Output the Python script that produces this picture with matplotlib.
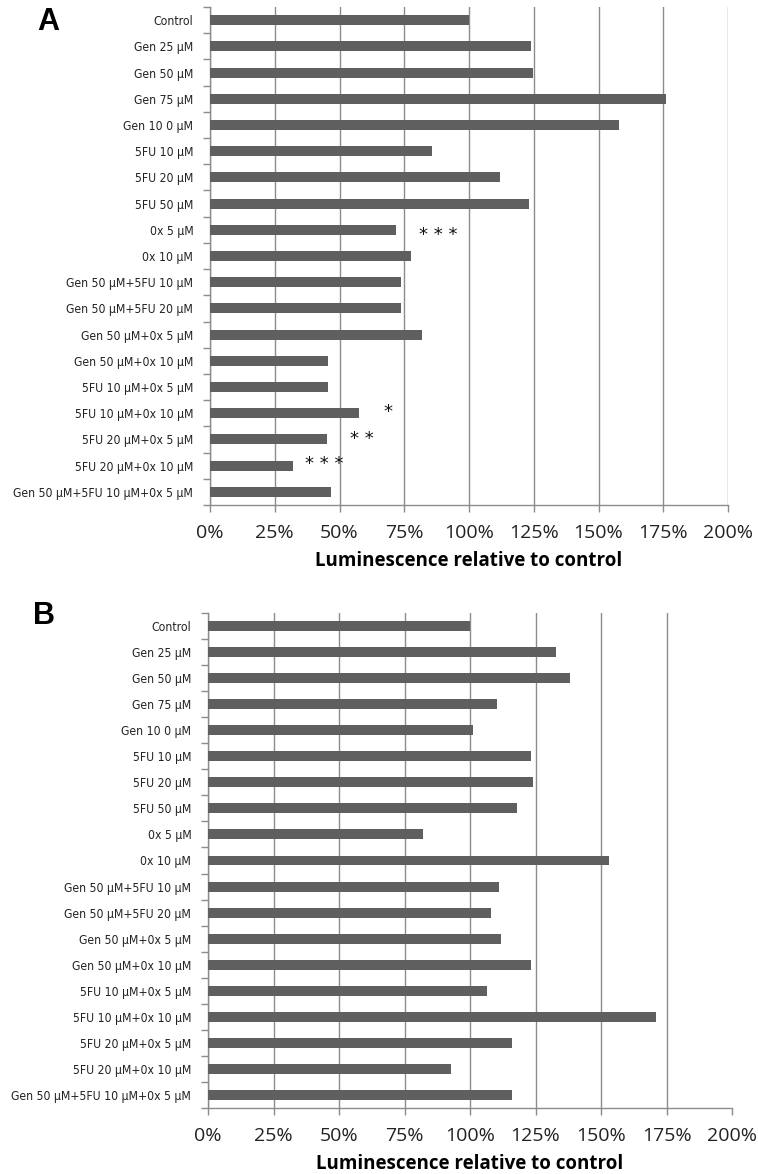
import matplotlib
matplotlib.use("Agg")
import matplotlib.pyplot as plt
from matplotlib import font_manager
from matplotlib.font_manager import FontProperties
import numpy as np

categories = ["Control", "Gen 25 μM", "Gen 50 μM", "Gen 75 μM", "Gen 10 0 μM",
              "5FU 10 μM", "5FU 20 μM", "5FU 50 μM", "0x 5 μM", "0x 10 μM",
              "Gen 50 μM+5FU 10 μM", "Gen 50 μM+5FU 20 μM", "Gen 50 μM+0x 5 μM",
              "Gen 50 μM+0x 10 μM", "5FU 10 μM+0x 5 μM", "5FU 10 μM+0x 10 μM",
              "5FU 20 μM+0x 5 μM", "5FU 20 μM+0x 10 μM", "Gen 50 μM+5FU 10 μM+0x 5 μM"]

values_a = [100, 123.8, 124.9, 175.9, 158.0, 85.8, 112.0, 123.0, 71.9, 77.6,
            73.7, 73.7, 82.0, 45.7, 45.7, 57.6, 45.0, 31.9, 46.6]
values_b = [100, 132.9, 138.2, 110.2, 101.1, 123.1, 124.1, 118.0, 82.0, 153.2,
            111.0, 108.0, 112.0, 123.1, 106.3, 170.9, 116.2, 92.9, 116.2]

x_ticks = [0, 25, 50, 75, 100, 125, 150, 175, 200]
x_ticklabels = ["0%", "25%", "50%", "75%", "100%", "125%", "150%", "175%", "200%"]

# significance marks for panel A: (category index, label, x value)
star_index = [8, 15, 16, 17]
star_text = ["* * *", "*", "* *", "* * *"]
star_x = [88, 68.8, 58.5, 44.3]
star_dy = [0.0, -0.25, -0.22, -0.27]

xlabel = "Luminescence relative to control"

# find a narrow / condensed face for the category labels
narrow_path = None
prefs = ["LiberationSansNarrow-Regular", "DejaVuSansCondensed.", "RobotoCondensed-Regular",
         "OpenSans_Condensed-Regular", "OpenSans-CondensedRegular", "NotoSans-CondensedRegular",
         "Condensed-Regular", "Condensed.ttf", "Narrow"]
files = [f.fname for f in font_manager.fontManager.ttflist]
for p in prefs:
    hits = [f for f in files if p in f and "Bold" not in f and "Oblique" not in f and "Italic" not in f]
    if hits:
        narrow_path = hits[0]
        break
if narrow_path:
    cat_font = FontProperties(fname=narrow_path, size=10)
else:
    cat_font = FontProperties(family="DejaVu Sans", size=10)

BAR = "#5f5f5f"
GRID = "#8c8c8c"

fig = plt.figure(figsize=(7.58, 11.74), dpi=100)
W, H = 758, 1174

# size the category font so that the longest label is about 181 px wide
renderer = fig.canvas.get_renderer()
probe = fig.text(0, 0, max(categories, key=len), fontproperties=cat_font)
wpx = probe.get_window_extent(renderer).width
probe.remove()
cat_font.set_size(min(10.5, 10 * 181.0 / wpx))


def make_axes(l, r, t, b):
    return fig.add_axes([l / W, 1 - b / H, (r - l) / W, (b - t) / H])


def draw(ax, vals, grid_last=True):
    y = np.arange(len(categories))
    ax.barh(y, vals, height=0.38, color=BAR, zorder=3)
    ax.set_xlim(0, 200)
    ax.set_ylim(len(categories) - 0.5, -0.5)
    ax.set_xticks(x_ticks)
    ax.set_xticklabels(x_ticklabels, fontfamily="Open Sans", fontsize=14, color="#222222")
    ax.set_yticks(y)
    ax.set_yticklabels(categories, color="#222222")
    for lab in ax.get_yticklabels():
        lab.set_fontproperties(cat_font)
    ax.set_yticks(np.arange(len(categories) + 1) - 0.5, minor=True)
    ax.tick_params(axis="y", which="major", length=0, pad=12)
    ax.tick_params(axis="y", which="minor", length=5, color=GRID, width=1, direction="out")
    ax.tick_params(axis="x", which="major", length=5, color=GRID, width=1, direction="out", pad=9)
    for s in ["top", "right"]:
        ax.spines[s].set_visible(False)
    for s in ["left", "bottom"]:
        ax.spines[s].set_color(GRID)
        ax.spines[s].set_linewidth(1)
    ax.xaxis.grid(True, color=GRID, linewidth=1, zorder=0)
    ax.set_axisbelow(True)
    if not grid_last:
        ax.get_xgridlines()[-1].set_visible(False)
    ax.set_xlabel(xlabel, fontfamily="Open Sans", fontweight="bold", fontsize=13.5, labelpad=6)


ax_a = make_axes(210, 728, 7, 505)
draw(ax_a, values_a, grid_last=True)
for i, t, xv, dy in zip(star_index, star_text, star_x, star_dy):
    ax_a.text(xv, i + dy + 0.2, t, ha="center", va="center", fontsize=13,
              fontfamily="DejaVu Sans", color="#111111", zorder=4)

ax_b = make_axes(208, 732, 613, 1108)
draw(ax_b, values_b, grid_last=False)

fig.text(37 / W, 1 - 22 / H, "A", fontsize=22, fontweight="bold", fontfamily="Liberation Sans",
         ha="left", va="center")
fig.text(33 / W, 1 - 616 / H, "B", fontsize=22, fontweight="bold", fontfamily="Liberation Sans",
         ha="left", va="center")

fig.savefig("out.png", dpi=100)
